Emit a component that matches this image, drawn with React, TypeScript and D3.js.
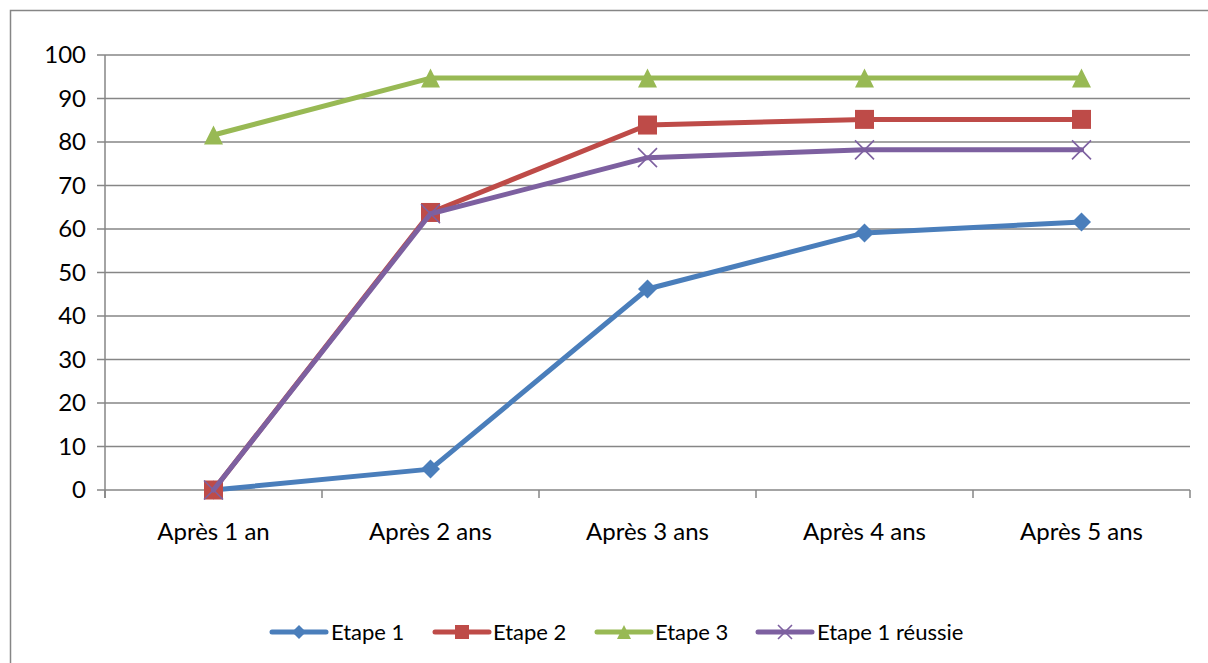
import React from "react";
import * as d3 from "d3";

const categories = ["Après 1 an", "Après 2 ans", "Après 3 ans", "Après 4 ans", "Après 5 ans"];
const etape1 = [0, 4.8, 46.2, 59.1, 61.6];
const etape2 = [0, 63.8, 83.9, 85.2, 85.2];
const etape3 = [81.6, 94.7, 94.7, 94.7, 94.7];
const etape1Reussie = [0, 63.5, 76.4, 78.2, 78.2];
const yTicks = [0, 10, 20, 30, 40, 50, 60, 70, 80, 90, 100];

const seriesNames = ["Etape 1", "Etape 2", "Etape 3", "Etape 1 réussie"];
const seriesColors = ["#4a7ebb", "#be4b48", "#98b954", "#7d60a0"];
const seriesMarkers = ["diamond", "square", "triangle", "x"];

const FONT = "Lato, 'Noto Sans', sans-serif";

function Marker({ type, x, y, s, color }: { type: string; x: number; y: number; s: number; color: string }) {
  const h = s / 2;
  if (type === "diamond") {
    return <path d={`M${x},${y - h}L${x + h},${y}L${x},${y + h}L${x - h},${y}Z`} fill={color} />;
  }
  if (type === "square") {
    return <rect x={x - h} y={y - h} width={s} height={s} fill={color} />;
  }
  if (type === "triangle") {
    return <path d={`M${x},${y - h}L${x + h},${y + h}L${x - h},${y + h}Z`} fill={color} />;
  }
  return (
    <path d={`M${x - h},${y - h}L${x + h},${y + h}M${x + h},${y - h}L${x - h},${y + h}`} stroke={color} strokeWidth={1.6} fill="none" />
  );
}

export default function App() {
  const W = 1208, H = 663;
  const left = 105, right = 1190, top = 55, bottom = 490;
  const x = d3.scaleBand<string>().domain(categories).range([left, right]);
  const y = d3.scaleLinear().domain([0, 100]).range([bottom, top]);
  const cx = (c: string) => (x(c) as number) + x.bandwidth() / 2;
  const allSeries = [etape1, etape2, etape3, etape1Reussie];
  const line = d3.line<[number, number]>().x((d) => d[0]).y((d) => d[1]);
  const grid = "#868686";

  const legendItems = [
    { lx: 272, tx: 331 },
    { lx: 435, tx: 493 },
    { lx: 597, tx: 655 },
    { lx: 758, tx: 817 },
  ];
  const legendY = 632;

  const boundaries = [...categories.map((c) => x(c) as number), right];

  return (
    <svg width={W} height={H} style={{ position: "fixed", left: 0, top: 0, background: "#fff" }} fontFamily={FONT}>
      <rect x={0} y={0} width={W} height={H} fill="#fff" />
      <rect x={10.5} y={10.5} width={W + 10} height={H + 10} fill="none" stroke={grid} strokeWidth={1.5} />
      {yTicks.map((t) => (
        <g key={t}>
          <line x1={97} x2={right} y1={y(t)} y2={y(t)} stroke={grid} strokeWidth={1.5} />
          <text x={86} y={y(t)} dy="0.35em" textAnchor="end" fontSize={24} fill="#000">{t}</text>
        </g>
      ))}
      <line x1={left} x2={left} y1={top} y2={bottom + 8} stroke={grid} strokeWidth={1.5} />
      {boundaries.map((b, i) => (
        <line key={i} x1={b} x2={b} y1={bottom} y2={bottom + 8} stroke={grid} strokeWidth={1.5} />
      ))}
      {categories.map((c) => (
        <text key={c} x={cx(c)} y={540} textAnchor="middle" fontSize={24} fill="#000">{c}</text>
      ))}
      {allSeries.map((vals, si) => {
        const pts: [number, number][] = vals.map((v, i) => [cx(categories[i]), y(v)]);
        return (
          <g key={si}>
            <path d={line(pts) as string} fill="none" stroke={seriesColors[si]} strokeWidth={5} strokeLinejoin="round" strokeLinecap="round" />
            {pts.map((p, i) => (
              <Marker key={i} type={seriesMarkers[si]} x={p[0]} y={p[1]} s={19} color={seriesColors[si]} />
            ))}
          </g>
        );
      })}
      {seriesNames.map((n, i) => {
        const it = legendItems[i];
        const mx = it.lx + 27;
        return (
          <g key={n}>
            <line x1={it.lx} x2={it.lx + 54} y1={legendY} y2={legendY} stroke={seriesColors[i]} strokeWidth={5} strokeLinecap="round" />
            <Marker type={seriesMarkers[i]} x={mx} y={legendY} s={14} color={seriesColors[i]} />
            <text x={it.tx} y={legendY} dy="0.35em" fontSize={22} fill="#000">{n}</text>
          </g>
        );
      })}
    </svg>
  );
}
